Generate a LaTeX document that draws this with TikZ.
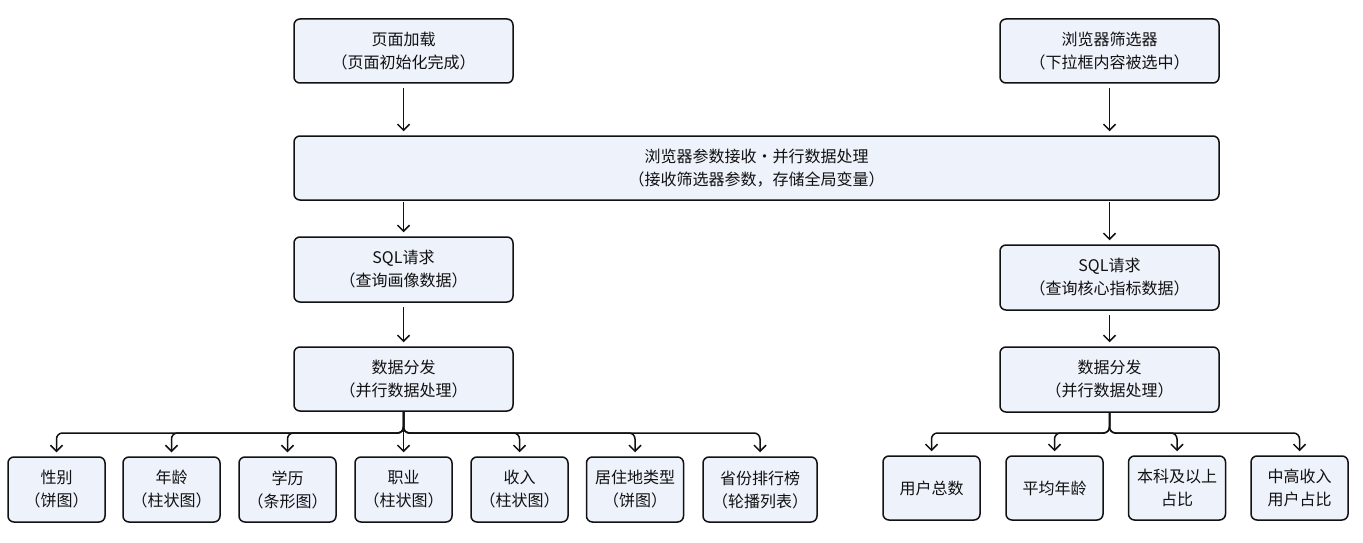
\documentclass[tikz,border=0pt]{standalone}
\usepackage{fontspec}
\setmainfont{Noto Sans CJK SC}
\usetikzlibrary{arrows.meta}
\definecolor{boxfill}{HTML}{EEF2FB}
\definecolor{ln}{HTML}{111111}
\begin{document}
\begin{tikzpicture}[x=1pt,y=-1pt,
  box/.style={draw=ln, fill=boxfill, line width=1.5pt, rounded corners=6pt,
    minimum width=219pt, minimum height=64pt, inner sep=0pt, align=center,
    font=\fontsize{16}{23}\selectfont, text=ln},
  leaf/.style={box, minimum width=97pt, minimum height=64pt},
  arr/.style={draw=ln, line width=1.5pt, -{Straight Barb[length=6pt,width=12pt,line width=1.5pt]}, shorten >=4pt},
  bus/.style={arr, rounded corners=6pt}
]
\useasboundingbox (0,0) rectangle (1363,543);
% top row
\node[box] (load) at (403.5,51) {页面加载\\（页面初始化完成）};
\node[box] (filt) at (1109.5,51) {浏览器筛选器\\（下拉框内容被选中）};
\node[box, minimum width=925pt] (recv) at (756.5,168) {浏览器参数接收・并行数据处理\\（接收筛选器参数，存储全局变量）};
% left column
\node[box, minimum height=65pt] (sqlL) at (403.5,269.5) {SQL请求\\（查询画像数据）};
\node[box] (distL) at (403.5,379) {数据分发\\（并行数据处理）};
% right column
\node[box, minimum height=65pt] (sqlR) at (1109.5,277.5) {SQL请求\\（查询核心指标数据）};
\node[box, minimum height=65pt] (distR) at (1109.5,379.5) {数据分发\\（并行数据处理）};
% left leaves
\node[leaf, minimum height=65pt] (l1) at (56.5,489.5) {性别\\（饼图）};
\node[leaf, minimum height=65pt] (l2) at (171.5,489.5) {年龄\\（柱状图）};
\node[leaf, minimum height=65pt] (l3) at (287.5,489.5) {学历\\（条形图）};
\node[leaf, minimum height=65pt] (l4) at (403.5,489.5) {职业\\（柱状图）};
\node[leaf, minimum height=65pt] (l5) at (519.5,489.5) {收入\\（柱状图）};
\node[leaf, minimum height=65pt] (l6) at (635,489.5) {居住地类型\\（饼图）};
\node[leaf, minimum height=65pt, minimum width=114pt] (l7) at (760,489.5) {省份排行榜\\（轮播列表）};
% right leaves
\node[leaf] (r1) at (931.5,488) {用户总数};
\node[leaf] (r2) at (1054.5,488) {平均年龄};
\node[leaf] (r3) at (1177,488) {本科及以上\\占比};
\node[leaf] (r4) at (1299.5,488) {中高收入\\用户占比};
\coordinate (busL) at (403.5,433);
\coordinate (busR) at (1109.5,433);
% vertical arrows
\draw[arr, shorten <=4pt] (load) -- (load |- recv.north);
\draw[arr, shorten <=4pt] (filt) -- (filt |- recv.north);
\draw[arr, shorten <=1pt] (recv.south -| load) -- (sqlL.north);
\draw[arr, shorten <=1pt] (recv.south -| filt) -- (sqlR.north);
\draw[arr, shorten <=4pt] (sqlL.south) -- (distL.north);
\draw[arr, shorten <=4pt] (sqlR.south) -- (distR.north);
% left branches
\foreach \n in {l1,l2,l3,l5,l6,l7}
  \draw[bus] (distL.south) -- (busL) -| (\n.north);
\draw[arr] (distL.south) -- (l4.north);
% right branches
\foreach \n in {r1,r2,r3,r4}
  \draw[bus] (distR.south) -- (busR) -| (\n.north);
\end{tikzpicture}
\end{document}
